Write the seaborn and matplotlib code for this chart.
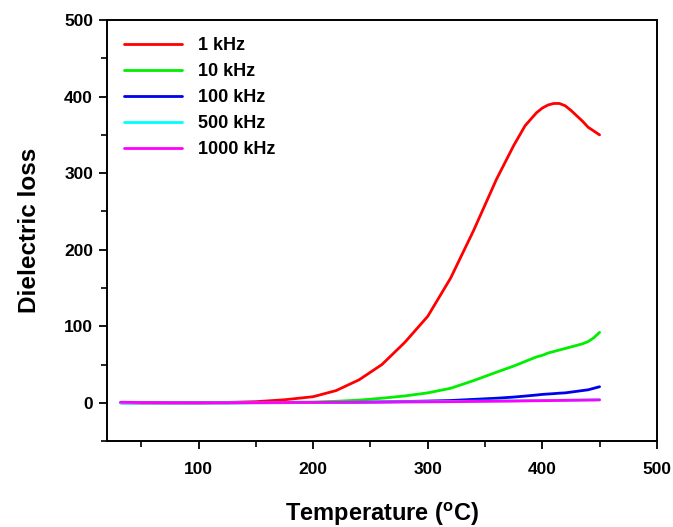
import numpy as np
import pandas as pd
import matplotlib
matplotlib.use("Agg")
import matplotlib.pyplot as plt
from matplotlib.ticker import MultipleLocator
import seaborn as sns

# Temperature grid (°C) and dielectric loss at each measuring frequency
temperature = [32, 50, 75, 100, 125, 150, 175, 200, 220, 240, 260, 280,
               300, 320, 340, 360, 375, 385, 395, 400, 405, 410, 415, 420,
               425, 430, 435, 440, 445, 450]
loss_1k = [0.5, 0, 0, 0, 0.5, 1.5, 4, 8, 16, 30, 50, 79,
           113, 163, 225, 292, 336, 362, 379, 385, 389, 391, 391, 388,
           382, 375, 368, 360, 355, 350]
loss_10k = [0, 0, 0, 0, 0, 0.3, 0.6, 1, 2, 3.5, 6, 9,
            13, 19, 29, 40, 48, 54, 60, 62, 65, 67, 69, 71,
            73, 75, 77, 80, 85, 92]
loss_100k = [0, 0, 0, 0, 0, 0.1, 0.2, 0.3, 0.5, 0.8, 1.2, 1.7,
             2.3, 3, 4.5, 6, 7.5, 8.8, 10.2, 11, 11.5, 12, 12.6, 13,
             14, 15, 16, 17, 19, 21]
loss_500k = [0, 0, 0, 0, 0.1, 0.2, 0.35, 0.5, 0.7, 0.9, 1.1, 1.3,
             1.5, 1.8, 2.1, 2.4, 2.6, 2.8, 2.95, 3, 3.1, 3.2, 3.3, 3.4,
             3.5, 3.6, 3.7, 3.8, 3.9, 4]
loss_1000k = [0.8, 0.3, 0.1, 0, 0.1, 0.3, 0.4, 0.5, 0.65, 0.75, 0.9, 1.1,
              1.3, 1.5, 1.8, 2.1, 2.3, 2.5, 2.7, 2.8, 2.9, 3, 3.1, 3.2,
              3.3, 3.4, 3.5, 3.6, 3.7, 3.8]

labels = ["1 kHz", "10 kHz", "100 kHz", "500 kHz", "1000 kHz"]
colors = ["#ff0000", "#00ee00", "#0000ee", "#00ffff", "#ff00ff"]

series = [loss_1k, loss_10k, loss_100k, loss_500k, loss_1000k]
df = pd.concat(
    [pd.DataFrame({"T": temperature, "loss": s, "freq": lab})
     for s, lab in zip(series, labels)],
    ignore_index=True,
)

sns.set_style("ticks")
plt.rcParams["font.family"] = ["Liberation Sans", "DejaVu Sans"]
plt.rcParams["font.weight"] = "bold"
plt.rcParams["mathtext.fontset"] = "custom"
plt.rcParams["mathtext.rm"] = "Liberation Sans:bold"
plt.rcParams["mathtext.default"] = "rm"
for key in ("text.color", "axes.labelcolor", "xtick.color", "ytick.color",
            "axes.edgecolor"):
    plt.rcParams[key] = "black"

fig = plt.figure(figsize=(6.73, 5.27), dpi=100)
ax = fig.add_axes([0.159, 0.163, 0.817, 0.799])

sns.lineplot(data=df, x="T", y="loss", hue="freq", hue_order=labels,
             palette=colors, linewidth=2.0, ax=ax, sort=True)

ax.set_xlim(20, 500)
ax.set_ylim(-50, 500)
ax.xaxis.set_major_locator(MultipleLocator(100))
ax.xaxis.set_minor_locator(MultipleLocator(50))
ax.yaxis.set_major_locator(MultipleLocator(100))
ax.yaxis.set_minor_locator(MultipleLocator(50))
ax.set_xticks([100, 200, 300, 400, 500])

ax.tick_params(which="major", direction="out", length=6, width=1.3,
               labelsize=12.5, color="black", labelcolor="black")
ax.tick_params(axis="x", which="major", pad=9)
ax.tick_params(axis="y", which="major", pad=4)
ax.tick_params(which="minor", direction="out", length=4, width=1.2,
               color="black")
for lbl in ax.get_xticklabels() + ax.get_yticklabels():
    lbl.set_fontweight("bold")

for sp in ax.spines.values():
    sp.set_linewidth(1.4)
    sp.set_color("black")

ax.set_xlabel("Temperature ($^{o}$C)", fontsize=17, fontweight="bold",
              labelpad=17, color="black")
ax.set_ylabel("Dielectric loss", fontsize=17.5, fontweight="bold",
              labelpad=17, color="black")

leg = ax.legend(loc="upper left", frameon=False, fontsize=13,
                handlelength=3.2, handletextpad=0.9, labelspacing=0.5,
                borderaxespad=0.55, bbox_to_anchor=(0.0, 1.0))
for t in leg.get_texts():
    t.set_fontweight("bold")
    t.set_color("black")
for h in leg.get_lines():
    h.set_linewidth(2.0)

fig.savefig("out.png", dpi=100)
